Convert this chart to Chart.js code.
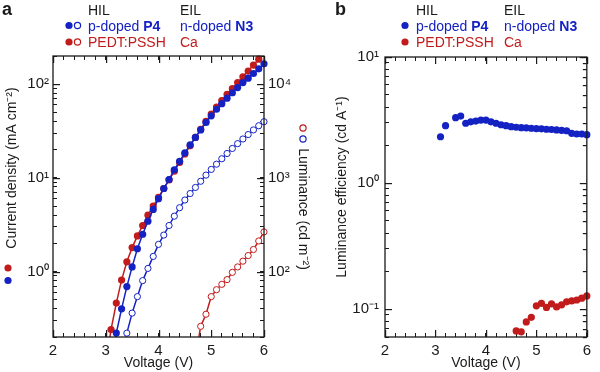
<!DOCTYPE html>
<html>
<head>
<meta charset="utf-8">
<script src="https://cdn.jsdelivr.net/npm/chart.js@4.4.1/dist/chart.umd.min.js"></script>
<style>
  html, body { margin: 0; padding: 0; background: #fff; }
  #wrap { position: relative; width: 600px; height: 372px; }
  #wrap canvas { position: absolute; left: 0; top: 0; }
</style>
</head>
<body>
<div id="wrap">
  <canvas id="chartA" width="600" height="372"></canvas>
  <canvas id="chartB" width="600" height="372"></canvas>
</div>
<script>
const BLUE = '#1422c4';
const RED = '#c21b1b';
const INK = '#1a1a1a';
const FONT = "'Liberation Sans', Arial, sans-serif";

// panel a: current density (mA cm-2), filled symbols
const vJBlue = [3.1, 3.2, 3.3, 3.4, 3.5, 3.6, 3.7, 3.8, 3.9, 4.0, 4.1, 4.2, 4.3, 4.4, 4.5, 4.6, 4.7, 4.8, 4.9, 5.0, 5.1, 5.2, 5.3, 5.4, 5.5, 5.6, 5.7, 5.8, 5.9, 6.0];
const jBlue = [0.1, 0.22, 0.40, 0.69, 1.12, 1.75, 2.5, 3.45, 4.6, 6.0, 7.7, 9.6, 12.2, 15, 18.5, 22.5, 27, 32.5, 39, 46, 54, 62, 71, 81, 92, 104, 116, 130, 146, 165];
const vJRed = [3.0, 3.1, 3.2, 3.3, 3.4, 3.5, 3.6, 3.7, 3.8, 3.9, 4.0, 4.1, 4.2, 4.3, 4.4, 4.5, 4.6, 4.7, 4.8, 4.9, 5.0, 5.1, 5.2, 5.3, 5.4, 5.5, 5.6, 5.7, 5.8, 5.9];
const jRed = [0.1, 0.24, 0.46, 0.81, 1.27, 1.8, 2.4, 3.1, 4.0, 5.0, 6.2, 7.7, 9.5, 11.8, 14.6, 18, 22, 27, 33, 40, 48, 57, 67, 78, 90, 104, 120, 138, 160, 185];

// panel a: luminance (cd m-2), open symbols
const vLBlue = [3.3, 3.4, 3.5, 3.6, 3.7, 3.8, 3.9, 4.0, 4.1, 4.2, 4.3, 4.4, 4.5, 4.6, 4.7, 4.8, 4.9, 5.0, 5.1, 5.2, 5.3, 5.4, 5.5, 5.6, 5.7, 5.8, 5.9, 6.0];
const lBlue = [8, 22, 36, 54, 80, 108, 145, 195, 245, 310, 390, 480, 580, 680, 790, 920, 1070, 1230, 1400, 1600, 1820, 2060, 2320, 2600, 2900, 3250, 3600, 3980];
const vLRed = [4.7, 4.8, 4.9, 5.0, 5.1, 5.2, 5.3, 5.4, 5.5, 5.6, 5.7, 5.8, 5.9, 6.0];
const lRed = [12, 26, 35, 54, 64, 73, 82, 98, 112, 129, 148, 172, 212, 265];

// panel b: luminance efficiency (cd A-1)
const vEffBlue = [3.1, 3.2, 3.4, 3.5, 3.6, 3.7, 3.8, 3.9, 4.0, 4.1, 4.2, 4.3, 4.4, 4.5, 4.6, 4.7, 4.8, 4.9, 5.0, 5.1, 5.2, 5.3, 5.4, 5.5, 5.6, 5.7, 5.8, 5.9, 6.0];
const effBlue = [2.33, 2.85, 3.30, 3.40, 2.98, 3.06, 3.10, 3.16, 3.16, 3.06, 2.98, 2.90, 2.85, 2.80, 2.77, 2.75, 2.74, 2.72, 2.70, 2.69, 2.67, 2.66, 2.64, 2.62, 2.60, 2.48, 2.45, 2.45, 2.42];
const vEffRed = [4.6, 4.7, 4.8, 4.9, 5.0, 5.1, 5.2, 5.3, 5.4, 5.5, 5.6, 5.7, 5.8, 5.9, 6.0];
const effRed = [0.067, 0.066, 0.079, 0.086, 0.106, 0.111, 0.103, 0.110, 0.104, 0.108, 0.114, 0.116, 0.118, 0.122, 0.127];

// axis ranges and labelled ticks
const voltRange = [2, 6];
const voltLabels = [2, 3, 4, 5, 6];
const jRange = [0.2, 200];
const jLabels = [1, 10, 100];
const lRange = [20, 20000];
const lLabels = [100, 1000, 10000];
const effRange = [0.06, 10];
const effLabels = [0.1, 1, 10];

const TL = -4; // negative tick length -> ticks point into the plot

const SUP = { '-': '\u207B', '0': '\u2070', '1': '\u00B9', '2': '\u00B2', '3': '\u00B3', '4': '\u2074' };
function powLabel(v) {
  const e = String(Math.round(Math.log10(v)));
  return '10' + e.split('').map(c => SUP[c]).join('');
}

function pts(xs, ys) {
  return xs.map((x, i) => ({ x: x, y: ys[i] }));
}

function logMarks(min, max) {
  const out = [];
  for (let e = Math.floor(Math.log10(min)); e <= Math.ceil(Math.log10(max)); e++) {
    for (let k = 1; k <= 9; k++) {
      const v = k * Math.pow(10, e);
      if (v >= min * 0.999 && v <= max * 1.001) out.push({ v: v, major: k === 1 });
    }
  }
  return out;
}

function linMarks(min, max, step, every) {
  const out = [];
  const n = Math.round((max - min) / step);
  for (let i = 0; i <= n; i++) out.push({ v: min + i * step, major: i % every === 0 });
  return out;
}

const voltMarks = linMarks(voltRange[0], voltRange[1], 0.2, 5);
const jMarks = logMarks(jRange[0], jRange[1]);
const lMarks = logMarks(lRange[0], lRange[1]);
const effMarks = logMarks(effRange[0], effRange[1]);

// frame + tick marks, placed by the chart's scales
function drawFrame(chart, sides) {
  const ctx = chart.ctx;
  const a = chart.chartArea;
  ctx.save();
  ctx.fillStyle = INK;
  sides.forEach(s => {
    const scale = chart.scales[s.scale];
    s.marks.forEach(t => {
      if (!t.major && !s.all) return;
      const len = t.major ? 7 : 4;
      const p = Math.round(scale.getPixelForValue(t.v));
      if (s.side === 'bottom') ctx.fillRect(p, a.bottom - len, 1.2, len);
      if (s.side === 'top') ctx.fillRect(p, a.top, 1.2, len);
      if (s.side === 'left') ctx.fillRect(a.left, p, len, 1.2);
      if (s.side === 'right') ctx.fillRect(a.right - len, p, len, 1.2);
    });
  });
  ctx.strokeStyle = INK;
  ctx.lineWidth = 1.3;
  ctx.strokeRect(a.left, a.top, a.right - a.left, a.bottom - a.top);
  ctx.restore();
}

function dot(ctx, x, y, color, open) {
  ctx.beginPath();
  ctx.arc(x, y, open ? 3.1 : 3.6, 0, Math.PI * 2);
  if (open) {
    ctx.fillStyle = '#fff';
    ctx.fill();
    ctx.strokeStyle = color;
    ctx.lineWidth = 1.2;
    ctx.stroke();
  } else {
    ctx.fillStyle = color;
    ctx.fill();
  }
}

function richText(ctx, x, y, parts, color) {
  ctx.fillStyle = color;
  ctx.textAlign = 'left';
  ctx.textBaseline = 'alphabetic';
  parts.forEach(p => {
    ctx.font = (p.bold ? 'bold ' : '') + '14px ' + FONT;
    ctx.fillText(p.t, x, y);
    x += ctx.measureText(p.t).width;
  });
}

function header(ctx, tag, tagX, dotX, colX, showOpen) {
  ctx.fillStyle = INK;
  ctx.font = 'bold 18px ' + FONT;
  ctx.textAlign = 'left';
  ctx.textBaseline = 'alphabetic';
  ctx.fillText(tag, tagX, 15);
  richText(ctx, colX[0], 15, [{ t: 'HIL' }], INK);
  richText(ctx, colX[1], 15, [{ t: 'EIL' }], INK);
  dot(ctx, dotX, 25.5, BLUE, false);
  dot(ctx, dotX, 42, RED, false);
  if (showOpen) {
    dot(ctx, dotX + 8.5, 25.5, BLUE, true);
    dot(ctx, dotX + 8.5, 42, RED, true);
  }
  richText(ctx, colX[0], 31, [{ t: 'p-doped ' }, { t: 'P4', bold: true }], BLUE);
  richText(ctx, colX[1], 31, [{ t: 'n-doped ' }, { t: 'N3', bold: true }], BLUE);
  richText(ctx, colX[0], 47, [{ t: 'PEDT:PSSH' }], RED);
  richText(ctx, colX[1], 47, [{ t: 'Ca' }], RED);
}

function vTitle(ctx, text, x, y, angle) {
  ctx.save();
  ctx.translate(x, y);
  ctx.rotate(angle);
  ctx.fillStyle = INK;
  ctx.font = '14px ' + FONT;
  ctx.textAlign = 'center';
  ctx.textBaseline = 'middle';
  ctx.fillText(text, 0, 0);
  ctx.restore();
}

const sidesA = [
  { scale: 'x', side: 'bottom', marks: voltMarks },
  { scale: 'x', side: 'top', marks: voltMarks },
  { scale: 'y', side: 'left', marks: jMarks },
  { scale: 'y2', side: 'right', marks: lMarks }
];
const sidesB = [
  { scale: 'x', side: 'bottom', marks: voltMarks },
  { scale: 'x', side: 'top', marks: voltMarks },
  { scale: 'y', side: 'left', marks: effMarks },
  { scale: 'y', side: 'right', marks: effMarks, all: true }
];

const decoA = {
  id: 'decoA',
  afterDraw(chart) {
    const ctx = chart.ctx;
    drawFrame(chart, sidesA);
    ctx.save();
    header(ctx, 'a', 2, 69, [88, 180], true);
    vTitle(ctx, 'Current density (mA cm\u207B\u00B2)', 12, 168, -Math.PI / 2);
    dot(ctx, 8, 268, RED, false);
    dot(ctx, 8, 280.5, BLUE, false);
    vTitle(ctx, 'Luminance (cd m\u207B\u00B2)', 303, 209, Math.PI / 2);
    dot(ctx, 303, 128, RED, true);
    dot(ctx, 303, 139, BLUE, true);
    ctx.restore();
  }
};

const decoB = {
  id: 'decoB',
  afterDraw(chart) {
    const ctx = chart.ctx;
    drawFrame(chart, sidesB);
    ctx.save();
    header(ctx, 'b', 335, 405, [416, 504], false);
    vTitle(ctx, 'Luminance efficiency (cd A\u207B\u00B9)', 342, 187, -Math.PI / 2);
    ctx.restore();
  }
};

Chart.defaults.font.family = FONT;
Chart.defaults.font.size = 15;
Chart.defaults.color = INK;

const tickGrid = { display: true, drawOnChartArea: false, drawTicks: true, tickLength: TL, tickColor: INK, tickWidth: 1 };

function isLabel(v, labels, log) {
  return labels.some(l => log ? Math.abs(Math.log10(l) - Math.log10(v)) < 1e-6 : Math.abs(l - v) < 1e-6);
}

function xScale(position, show) {
  return {
    type: 'linear',
    position: position,
    min: voltRange[0],
    max: voltRange[1],
    bounds: 'data',
    grid: tickGrid,
    border: { display: false },
    afterBuildTicks: s => { s.ticks = voltMarks.map(m => ({ value: m.v })); },
    afterFit: s => { s.height = show ? 35 : 0; },
    ticks: {
      display: show,
      autoSkip: false,
      maxRotation: 0,
      minRotation: 0,
      padding: 5 - TL,
      callback: v => isLabel(v, voltLabels, false) ? String(Math.round(v)) : ''
    },
    title: { display: show, text: 'Voltage (V)', font: { size: 14 }, padding: { top: 0, bottom: 0.6 } }
  };
}

function logScale(range, marks, labels, position, width, pad) {
  return {
    type: 'logarithmic',
    position: position,
    min: range[0],
    max: range[1],
    bounds: 'data',
    grid: tickGrid,
    border: { display: false },
    afterBuildTicks: s => { s.ticks = marks.map(m => ({ value: m.v })); },
    afterFit: s => { s.width = width; },
    ticks: {
      autoSkip: false,
      padding: pad - TL,
      callback: v => isLabel(v, labels, true) ? powLabel(v) : ''
    }
  };
}

function lineSet(xs, ys, color, open, axis) {
  return {
    data: pts(xs, ys),
    yAxisID: axis,
    borderColor: color,
    borderWidth: 1.5,
    tension: 0,
    pointRadius: open ? 3.1 : 3.6,
    pointBorderWidth: open ? 1 : 0,
    pointBackgroundColor: open ? '#fff' : color,
    pointBorderColor: color,
    clip: { left: 6, right: 6, top: 6, bottom: 0 }
  };
}

new Chart(document.getElementById('chartA'), {
  type: 'line',
  data: {
    datasets: [
      lineSet(vJBlue, jBlue, BLUE, false, 'y'),
      lineSet(vJRed, jRed, RED, false, 'y'),
      lineSet(vLBlue, lBlue, BLUE, true, 'y2'),
      lineSet(vLRed, lRed, RED, true, 'y2')
    ]
  },
  options: {
    responsive: false,
    animation: false,
    events: [],
    layout: { padding: { left: 0, right: 296, top: 56, bottom: 0 } },
    plugins: { legend: { display: false }, tooltip: { enabled: false } },
    scales: {
      x: xScale('bottom', true),
      xTop: xScale('top', false),
      y: logScale(jRange, jMarks, jLabels, 'left', 53, 4),
      y2: logScale(lRange, lMarks, lLabels, 'right', 40, 4)
    }
  },
  plugins: [decoA]
});

function dotSet(xs, ys, color) {
  return {
    data: pts(xs, ys),
    showLine: false,
    pointRadius: 3.6,
    pointBorderWidth: 0,
    pointBackgroundColor: color,
    pointBorderColor: color,
    clip: { left: 6, right: 6, top: 6, bottom: 0 }
  };
}

new Chart(document.getElementById('chartB'), {
  type: 'line',
  data: {
    datasets: [
      dotSet(vEffBlue, effBlue, BLUE),
      dotSet(vEffRed, effRed, RED)
    ]
  },
  options: {
    responsive: false,
    animation: false,
    events: [],
    layout: { padding: { left: 340, right: 5, top: 57, bottom: 0 } },
    plugins: { legend: { display: false }, tooltip: { enabled: false } },
    scales: {
      x: xScale('bottom', true),
      xTop: xScale('top', false),
      y: logScale(effRange, effMarks, effLabels, 'left', 45, 6)
    }
  },
  plugins: [decoB]
});
</script>
</body>
</html>
